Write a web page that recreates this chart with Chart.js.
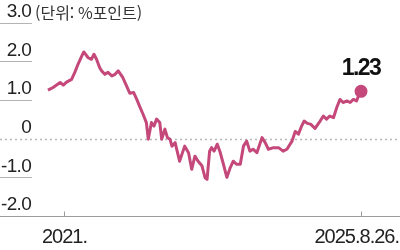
<!DOCTYPE html>
<html lang="ko">
<head>
<meta charset="utf-8">
<script src="https://cdn.jsdelivr.net/npm/chart.js@4.4.1/dist/chart.umd.min.js"></script>
<style>
  html, body { margin: 0; padding: 0; background: #fff; }
</style>
</head>
<body>
<canvas id="chart" width="400" height="250"></canvas>
<script>
// decimal years (2025.8.26 ~ 2025.65)
const years = [
  2020.75, 2020.83, 2020.94, 2020.99, 2021.04, 2021.12, 2021.17, 2021.22, 2021.28, 2021.31,
  2021.38, 2021.43, 2021.47, 2021.51, 2021.56, 2021.59, 2021.64, 2021.69, 2021.75, 2021.80,
  2021.85, 2021.92, 2021.99, 2022.03, 2022.09, 2022.14, 2022.19, 2022.24, 2022.29, 2022.32,
  2022.37, 2022.41, 2022.45, 2022.50, 2022.53, 2022.58, 2022.62, 2022.66, 2022.69, 2022.74,
  2022.81, 2022.89, 2022.95, 2023.00, 2023.05, 2023.10, 2023.16, 2023.21, 2023.24, 2023.28,
  2023.31, 2023.35, 2023.40, 2023.44, 2023.49, 2023.55, 2023.60, 2023.65, 2023.70, 2023.76,
  2023.81, 2023.86, 2023.91, 2023.96, 2024.02, 2024.10, 2024.15, 2024.20, 2024.28, 2024.36,
  2024.43, 2024.49, 2024.57, 2024.62, 2024.67, 2024.72, 2024.76, 2024.81, 2024.86, 2024.93,
  2025.01, 2025.06, 2025.11, 2025.16, 2025.22, 2025.27, 2025.32, 2025.37, 2025.43, 2025.48,
  2025.53, 2025.58, 2025.61, 2025.65
];

// spread, %p
const spread = [
  1.26, 1.33, 1.46, 1.39, 1.47, 1.54, 1.72, 1.93, 2.15, 2.25,
  2.10, 2.06, 2.19, 2.06, 1.84, 1.76, 1.67, 1.72, 1.63, 1.67,
  1.76, 1.59, 1.33, 1.18, 1.20, 1.02, 0.82, 0.63, 0.42, -0.01,
  0.42, 0.33, 0.51, 0.42, -0.01, 0.25, 0.03, -0.01, -0.19, -0.10,
  -0.58, -0.19, -0.36, -0.79, -0.45, -0.58, -0.70, -1.01, -1.05, -0.32,
  -0.23, -0.32, -0.14, -0.32, -0.62, -1.00, -0.76, -0.58, -0.66, -0.66,
  -0.19, -0.06, -0.32, -0.27, -0.36, 0.03, -0.10, -0.27, -0.23, -0.23,
  -0.32, -0.27, -0.06, 0.19, 0.12, 0.33, 0.46, 0.40, 0.38, 0.27,
  0.46, 0.59, 0.51, 0.59, 0.55, 0.81, 1.02, 0.94, 0.98, 0.94,
  1.02, 0.98, 1.11, 1.23
];

const yTickValues = [-2, -1, 0, 1, 2, 3];
const yTickLabels = ['-2.0', '-1.0', '0', '1.0', '2.0', '3.0'];
const xTickValues = [2021, 2025.65];
const xTickLabels = ['2021.', '2025.8.26.'];
const unitLabel = '(단위: %포인트)';
const lastLabel = '1.23';

const lineColor = '#c4487a';
const numFont = "'Liberation Sans', sans-serif";

const overlay = {
  id: 'overlay',
  beforeDraw(chart) {
    // tighter tracking for the axis numbers
    chart.ctx.letterSpacing = '-0.7px';
  },
  beforeDatasetsDraw(chart) {
    const { ctx, chartArea, scales: { x, y } } = chart;
    ctx.save();
    ctx.letterSpacing = '0px';

    // dotted zero line across the whole width
    const y0 = Math.round(y.getPixelForValue(0)) + 0.5;
    ctx.strokeStyle = '#b8b8b8';
    ctx.lineWidth = 1.5;
    ctx.setLineDash([2, 3]);
    ctx.beginPath();
    ctx.moveTo(0, y0);
    ctx.lineTo(chart.width, y0);
    ctx.stroke();
    ctx.setLineDash([]);

    // bottom axis line
    const yb = Math.round(chartArea.bottom) + 0.5;
    ctx.strokeStyle = '#9c9c9c';
    ctx.lineWidth = 1;
    ctx.beginPath();
    ctx.moveTo(0, yb);
    ctx.lineTo(chart.width, yb);
    ctx.stroke();

    // x ticks + labels
    ctx.fillStyle = '#222';
    ctx.font = '20px ' + numFont;
    ctx.letterSpacing = '-1px';
    ctx.textBaseline = 'alphabetic';
    xTickValues.forEach((v, i) => {
      const px = Math.round(x.getPixelForValue(v)) + 0.5;
      ctx.beginPath();
      ctx.moveTo(px, yb - 5);
      ctx.lineTo(px, yb);
      ctx.stroke();
      const w = ctx.measureText(xTickLabels[i]).width;
      let tx = px - w / 2;
      if (tx + w > chart.width - 1) tx = chart.width - 1 - w;
      ctx.textAlign = 'left';
      ctx.fillText(xTickLabels[i], tx, 243);
    });
    ctx.letterSpacing = '0px';

    // unit text next to the top tick label
    ctx.font = "16px 'Noto Sans CJK KR', sans-serif";
    ctx.textAlign = 'left';
    ctx.textBaseline = 'middle';
    ctx.fillStyle = '#333';
    ctx.fillText(unitLabel, 35, y.getPixelForValue(3) - 10);

    ctx.restore();
  },
  afterDatasetsDraw(chart) {
    const { ctx, scales: { x, y } } = chart;
    const n = spread.length - 1;
    const px = x.getPixelForValue(years[n]);
    const py = y.getPixelForValue(spread[n]);
    ctx.save();
    ctx.fillStyle = '#111';
    ctx.font = 'bold 23px ' + numFont;
    ctx.letterSpacing = '-1.5px';
    ctx.textAlign = 'center';
    ctx.textBaseline = 'alphabetic';
    ctx.fillText(lastLabel, px, py - 16);
    ctx.restore();
  },
  afterDraw(chart) {
    chart.ctx.letterSpacing = '0px';
  }
};

new Chart(document.getElementById('chart'), {
  type: 'line',
  data: {
    datasets: [{
      data: years.map((t, i) => ({ x: t, y: spread[i] })),
      borderColor: lineColor,
      backgroundColor: lineColor,
      borderWidth: 3,
      borderJoinStyle: 'round',
      tension: 0,
      pointRadius: ctx => ctx.dataIndex === spread.length - 1 ? 5 : 0,
      pointHoverRadius: 0,
      clip: false
    }]
  },
  options: {
    responsive: false,
    animation: false,
    devicePixelRatio: 1,
    layout: { autoPadding: false, padding: { top: 23, right: 0, bottom: 34, left: 0 } },
    plugins: {
      legend: { display: false },
      tooltip: { enabled: false }
    },
    scales: {
      x: {
        type: 'linear',
        display: false,
        min: 2020.5,
        max: 2026.26
      },
      y: {
        min: -2,
        max: 3,
        afterBuildTicks: s => { s.ticks = yTickValues.map(v => ({ value: v })); },
        afterFit: s => { s.width = 32; },
        border: { display: false },
        grid: {
          drawOnChartArea: false,
          drawTicks: true,
          tickLength: 32,
          lineWidth: 1,
          color: ctx => (ctx.tick && (ctx.tick.value === 0 || ctx.tick.value === -2)) ? 'rgba(0,0,0,0)' : '#b4b4b4'
        },
        ticks: {
          autoSkip: false,
          padding: -31,
          labelOffset: -11,
          color: '#222',
          font: { family: numFont, size: 19 },
          callback: (v, i) => yTickLabels[i]
        }
      }
    }
  },
  plugins: [overlay]
});
</script>
</body>
</html>
